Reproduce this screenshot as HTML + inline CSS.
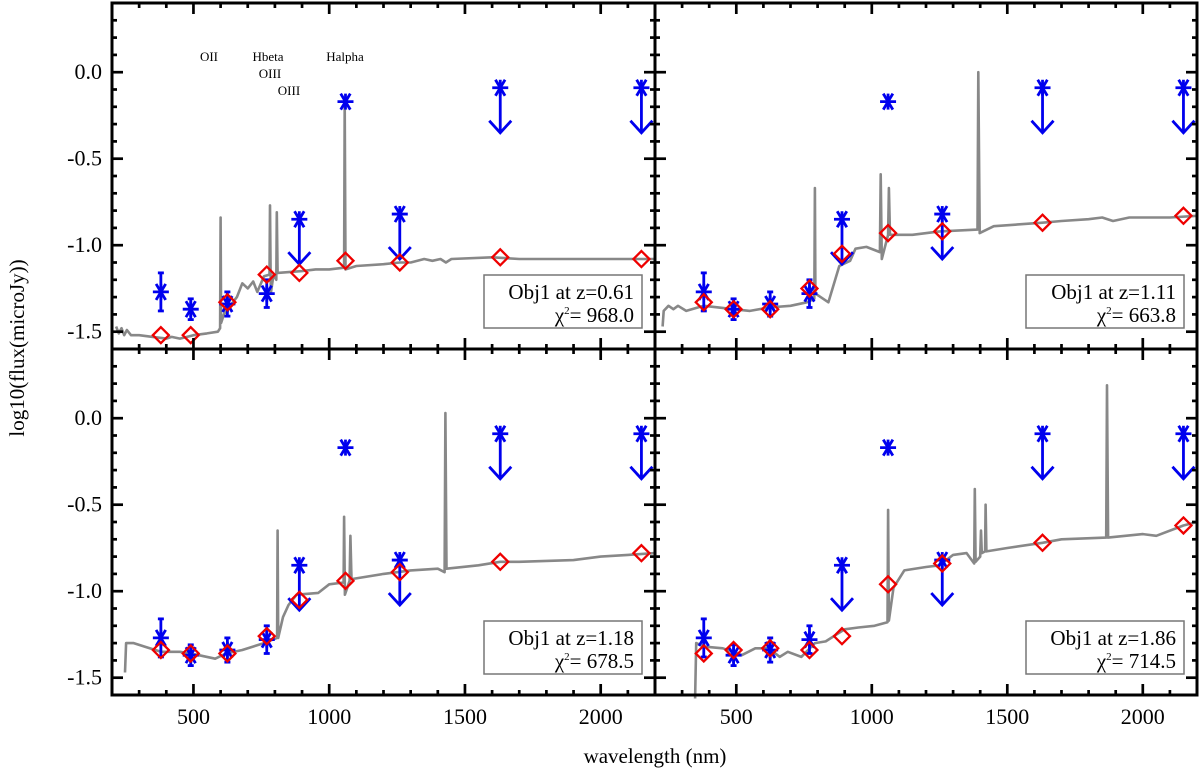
<!DOCTYPE html>
<html><head><meta charset="utf-8"><style>
html,body{margin:0;padding:0;background:#fff;}
svg{display:block;}
svg text{font-family:"Liberation Serif","DejaVu Serif",serif;}
</style></head><body>
<svg id="chart" width="1200" height="778" viewBox="0 0 1200 778" xmlns="http://www.w3.org/2000/svg" font-family="Liberation Serif, DejaVu Serif, serif">
<text x="0" y="0" transform="translate(24,348) rotate(-90)" text-anchor="middle" font-size="21" font-family="Liberation Serif, serif">log10(flux(microJy))</text>
<text x="655" y="763" text-anchor="middle" font-size="21" font-family="Liberation Serif, serif">wavelength (nm)</text>
</svg>
<script>
// ---- data ----
const obsWave = [380, 490, 625, 770, 890, 1060, 1260, 1630, 2150];
const obsFlux = [-1.27, -1.37, -1.34, -1.28, -0.85, -0.17, -0.82, -0.09, -0.09];
const obsErr  = [0.11, 0.06, 0.07, 0.08, 0, 0, 0, 0, 0];
const obsUpper = [false, false, false, false, true, false, true, true, true];

const modelP1 = [-1.52, -1.52, -1.33, -1.17, -1.16, -1.09, -1.10, -1.07, -1.08];
const modelP2 = [-1.33, -1.37, -1.37, -1.25, -1.05, -0.93, -0.92, -0.87, -0.83];
const modelP3 = [-1.34, -1.36, -1.36, -1.26, -1.05, -0.94, -0.89, -0.83, -0.78];
const modelP4 = [-1.36, -1.34, -1.33, -1.34, -1.26, -0.96, -0.84, -0.72, -0.62];

const specP1 = [[215,-1.47],[225,-1.51],[235,-1.48],[245,-1.52],[255,-1.49],[270,-1.52],[300,-1.52],[350,-1.53],[400,-1.54],[420,-1.53],[450,-1.54],[500,-1.52],[550,-1.51],[590,-1.50],[598,-1.48],[600,-0.84],[602,-1.45],[612,-1.40],[640,-1.34],[660,-1.30],[680,-1.22],[700,-1.25],[720,-1.21],[735,-1.27],[760,-1.18],[780,-1.17],[782,-0.77],[785,-1.28],[795,-1.17],[805,-1.20],[807,-0.81],[810,-1.16],[900,-1.15],[950,-1.14],[1000,-1.14],[1055,-1.13],[1057,-0.17],[1060,-1.14],[1100,-1.12],[1200,-1.11],[1260,-1.10],[1300,-1.10],[1350,-1.08],[1380,-1.09],[1410,-1.08],[1430,-1.10],[1450,-1.08],[1600,-1.07],[1700,-1.08],[2200,-1.08]];
const specP2 = [[228,-1.47],[232,-1.38],[250,-1.35],[268,-1.37],[285,-1.35],[315,-1.38],[380,-1.35],[490,-1.37],[550,-1.38],[620,-1.36],[700,-1.35],[760,-1.33],[788,-1.31],[790,-0.67],[792,-1.28],[840,-1.33],[880,-1.12],[920,-1.09],[940,-1.02],[980,-1.01],[1030,-1.04],[1033,-0.59],[1037,-1.08],[1060,-0.94],[1063,-0.67],[1067,-0.94],[1150,-0.94],[1250,-0.92],[1390,-0.91],[1393,0.0],[1398,-0.93],[1450,-0.89],[1630,-0.87],[1700,-0.86],[1800,-0.85],[1850,-0.84],[1890,-0.86],[1950,-0.84],[2100,-0.84],[2200,-0.83]];
const specP3 = [[248,-1.47],[252,-1.30],[280,-1.30],[320,-1.32],[380,-1.35],[450,-1.35],[520,-1.37],[580,-1.39],[620,-1.36],[680,-1.34],[760,-1.30],[808,-1.27],[810,-0.65],[812,-1.27],[830,-1.15],[850,-1.08],[880,-1.02],[960,-1.01],[1000,-0.96],[1053,-0.95],[1055,-0.57],[1058,-1.02],[1075,-0.94],[1078,-0.68],[1082,-0.93],[1200,-0.90],[1300,-0.88],[1400,-0.87],[1425,-0.89],[1428,0.03],[1432,-0.87],[1550,-0.85],[1630,-0.83],[1700,-0.83],[1900,-0.82],[2000,-0.80],[2100,-0.79],[2200,-0.78]];
const specP4 = [[348,-1.62],[352,-1.30],[380,-1.32],[450,-1.33],[490,-1.35],[520,-1.37],[570,-1.33],[620,-1.33],[660,-1.38],[690,-1.35],[740,-1.38],[790,-1.30],[830,-1.29],[870,-1.25],[900,-1.22],[950,-1.21],[1010,-1.20],[1058,-1.18],[1060,-0.53],[1063,-1.17],[1080,-0.98],[1120,-0.88],[1200,-0.86],[1250,-0.85],[1300,-0.79],[1350,-0.78],[1378,-0.84],[1380,-0.41],[1383,-0.83],[1400,-0.80],[1403,-0.65],[1406,-0.78],[1418,-0.77],[1420,-0.50],[1423,-0.77],[1500,-0.75],[1630,-0.72],[1700,-0.70],[1865,-0.69],[1868,0.19],[1872,-0.69],[2000,-0.67],[2050,-0.68],[2150,-0.62],[2200,-0.60]];

const redshifts = ["0.61", "1.11", "1.18", "1.86"];
const chi2 = ["968.0", "663.8", "678.5", "714.5"];
const xTicks = [500, 1000, 1500, 2000];
const yTicks = [-1.5, -1.0, -0.5, 0.0];
const yTickLabels = ["-1.5", "-1.0", "-0.5", "0.0"];
const lineLabels = ["OII", "Hbeta", "OIII", "OIII", "Halpha"];

// ---- drawing ----
const svg = document.getElementById('chart');
const NS = 'http://www.w3.org/2000/svg';
const SERIF = 'Liberation Serif, DejaVu Serif, serif';
function mk(tag, attrs, parent) {
  const e = document.createElementNS(NS, tag);
  for (const k in attrs) e.setAttribute(k, attrs[k]);
  (parent || svg).appendChild(e);
  return e;
}
const XMIN = 200, XMAX = 2200, YMIN = -1.6, YMAX = 0.4;
const panels = [
  {x0:112, x1:655, y0:3, y1:349, model:modelP1, spec:specP1},
  {x0:655, x1:1197, y0:3, y1:349, model:modelP2, spec:specP2},
  {x0:112, x1:655, y0:349, y1:695, model:modelP3, spec:specP3},
  {x0:655, x1:1197, y0:349, y1:695, model:modelP4, spec:specP4}
];

panels.forEach((p, i) => {
  const g = mk('g', {});
  
  
  const sx = v => p.x0 + (v - XMIN) / (XMAX - XMIN) * (p.x1 - p.x0);
  const sy = v => p.y1 - (v - YMIN) / (YMAX - YMIN) * (p.y1 - p.y0);

  const line = mk('polyline', {points: p.spec.map(d => sx(d[0]).toFixed(1) + ',' + sy(d[1]).toFixed(1)).join(' '), fill:'none', stroke:'#888', 'stroke-width':2.6, 'stroke-linejoin':'round'}, g);
  
  

  obsWave.forEach((w, k) => {
    const cx = sx(w), cy = sy(obsFlux[k]);
    const s = mk('g', {stroke:'#0000ee', 'stroke-width':2.8, fill:'none'}, g);
    
    
    const r = 8;
    mk('line', {x1:cx-r, y1:cy, x2:cx+r, y2:cy}, s);
    mk('line', {x1:cx-r*0.6, y1:cy-r, x2:cx+r*0.6, y2:cy+r}, s);
    mk('line', {x1:cx-r*0.6, y1:cy+r, x2:cx+r*0.6, y2:cy-r}, s);
    mk('line', {x1:cx, y1:cy-r, x2:cx, y2:cy+r}, s);
    if (obsErr[k] > 0) {
      const a = sy(obsFlux[k] + obsErr[k]), b = sy(obsFlux[k] - obsErr[k]);
      mk('line', {x1:cx, y1:a, x2:cx, y2:b}, s);
      mk('line', {x1:cx-3, y1:a, x2:cx+3, y2:a}, s);
      mk('line', {x1:cx-3, y1:b, x2:cx+3, y2:b}, s);
    }
    if (obsUpper[k]) {
      const e = sy(obsFlux[k] - 0.26);
      mk('line', {x1:cx, y1:cy, x2:cx, y2:e}, s);
      mk('polyline', {points:`${cx-11},${e-12} ${cx},${e} ${cx+11},${e-12}`}, s);
    }
  });

  obsWave.forEach((w, k) => {
    const cx = sx(w), cy = sy(p.model[k]);
    const d = mk('polygon', {points:`${cx},${cy-8} ${cx+8},${cy} ${cx},${cy+8} ${cx-8},${cy}`, fill:'none', stroke:'#ee0000', 'stroke-width':2.3}, g);
    
    
  });

  const f = mk('rect', {x:p.x0, y:p.y0, width:p.x1-p.x0, height:p.y1-p.y0, fill:'none', stroke:'#000', 'stroke-width':3}, g);
  
  

  for (let v = 300; v <= 2100; v += 100) {
    const x = sx(v), L = (v % 500 === 0) ? 11 : 5;
    mk('line', {x1:x, y1:p.y1, x2:x, y2:p.y1-L, stroke:'#000', 'stroke-width':2.7}, g);
    mk('line', {x1:x, y1:p.y0, x2:x, y2:p.y0+L, stroke:'#000', 'stroke-width':2.7}, g);
  }
  for (let n = -15; n <= 3; n++) {
    const v = n / 10, y = sy(v), L = (n % 5 === 0) ? 11 : 5;
    mk('line', {x1:p.x0, y1:y, x2:p.x0+L, y2:y, stroke:'#000', 'stroke-width':2.7}, g);
    mk('line', {x1:p.x1, y1:y, x2:p.x1-L, y2:y, stroke:'#000', 'stroke-width':2.7}, g);
  }
  if (i % 2 === 0) {
    yTicks.forEach((v, k) => {
      const t = mk('text', {x:p.x0-10, y:sy(v)+7, 'text-anchor':'end', 'font-size':22, 'font-family':SERIF}, g);
      
      
      t.textContent = yTickLabels[k];
    });
  }
  if (i >= 2) {
    xTicks.forEach(v => {
      const t = mk('text', {x:sx(v), y:p.y1+29, 'text-anchor':'middle', 'font-size':22, 'font-family':SERIF}, g);
      
      
      t.textContent = v;
    });
  }

  const lx = p.x1 - 171, ly = p.y1 - 74;
  const lg = mk('g', {}, g);
  
  
  mk('rect', {x:lx, y:ly, width:158, height:53, fill:'#fff', stroke:'#777', 'stroke-width':1.5}, lg);
  const t1 = mk('text', {x:lx+150, y:ly+24, 'text-anchor':'end', 'font-size':21, 'font-family':SERIF}, lg);
  t1.textContent = 'Obj1 at z=' + redshifts[i];
  const t2 = mk('text', {x:lx+150, y:ly+47, 'text-anchor':'end', 'font-size':21, 'font-family':SERIF}, lg);
  t2.innerHTML = 'χ<tspan dy="-8" font-size="11">2</tspan><tspan dy="8">= ' + chi2[i] + '</tspan>';
});

const labPos = [[209,61],[268,61],[270,78],[289,95],[345,61]];
lineLabels.forEach((s, k) => {
  const t = mk('text', {x:labPos[k][0], y:labPos[k][1], 'text-anchor':'middle', 'font-size':13, 'font-family':SERIF});
  
  
  t.textContent = s;
});
</script>
</body></html>
